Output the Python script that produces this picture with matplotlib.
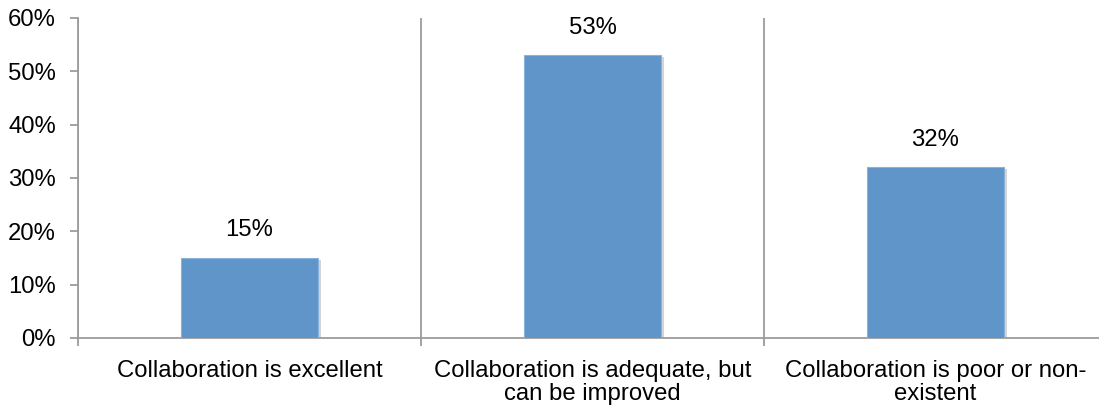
# Collaboration survey - share of responses per answer

import matplotlib.pyplot as plt
import matplotlib.patheffects as pe
from matplotlib.ticker import FixedLocator, PercentFormatter

plt.rcParams['font.family'] = ['Liberation Sans', 'DejaVu Sans']

# Survey answers and share of respondents (%)
categories = [
    'Collaboration is excellent',
    'Collaboration is adequate, but\ncan be improved',
    'Collaboration is poor or non-\nexistent',
]
shares = [15, 53, 32]

bar_color = '#6095C9'
axis_gray = '#9C9C9C'
font_size = 17.2

fig = plt.figure(figsize=(10.99, 4.07), dpi=100)
ax = fig.add_axes([78 / 1099, 69 / 407, 1029 / 1099, 320 / 407])

positions = [i + 0.5 for i in range(len(categories))]
bars = ax.bar(positions, shares, width=0.4, color=bar_color,
              edgecolor='#8AB2DA', linewidth=0.8, zorder=3)
for b in bars:
    b.set_path_effects([pe.SimplePatchShadow(offset=(2, -1.5), shadow_rgbFace='#888888', alpha=0.35),
                        pe.Normal()])

# value labels above each bar
for x, v in zip(positions, shares):
    ax.annotate(f'{v}%', (x, v), xytext=(0, 12), textcoords='offset points',
                ha='center', va='bottom', fontsize=font_size, color='black')

ax.set_xlim(0, len(categories))
ax.set_ylim(0, 60)
ax.set_yticks(range(0, 61, 10))
ax.yaxis.set_major_formatter(PercentFormatter(decimals=0))

# category labels in the middle, separator ticks on the boundaries
ax.set_xticks(positions)
ax.set_xticklabels(categories, fontsize=font_size, linespacing=1.05)
ax.tick_params(axis='x', which='major', length=0, pad=16)
ax.xaxis.set_minor_locator(FixedLocator(range(len(categories) + 1)))
ax.tick_params(axis='x', which='minor', length=6, width=1.3, color=axis_gray, direction='out')
ax.grid(axis='x', which='minor', color=axis_gray, linewidth=1.3, zorder=1)

ax.tick_params(axis='y', length=6, width=1.3, color=axis_gray, pad=10, labelsize=font_size)

for side in ['top', 'right']:
    ax.spines[side].set_visible(False)
for side in ['left', 'bottom']:
    ax.spines[side].set_color(axis_gray)
    ax.spines[side].set_linewidth(1.3)

fig.savefig('out.png', dpi=100)
